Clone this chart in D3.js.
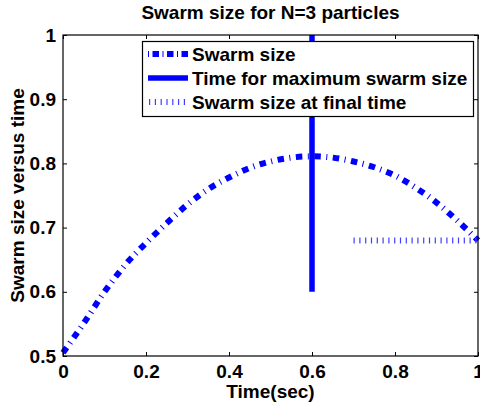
<!DOCTYPE html>
<html><head><meta charset="utf-8">
<script src="https://cdn.jsdelivr.net/npm/d3@7"></script>
<style>body{margin:0;background:#fff}text{font-family:"Liberation Sans",Arial,sans-serif;font-weight:bold}</style>
</head><body><svg id="c" width="480" height="405"></svg>
<script>
const time = [0,0.05,0.1,0.15,0.2,0.25,0.3,0.35,0.4,0.45,0.5,0.55,0.6,0.65,0.7,0.75,0.8,0.85,0.9,0.95,1.0];
const swarmSize = [0.505,0.551,0.600,0.642,0.676,0.707,0.736,0.760,0.778,0.793,0.803,0.809,0.811,0.809,0.803,0.794,0.781,0.762,0.739,0.711,0.680];
const maxTime = 0.6;
const maxLineY = [0.6, 1.0];
const finalX = [0.7, 1.0];
const finalSize = 0.68;
const xTicks = [0,0.2,0.4,0.6,0.8,1];
const yTicks = [0.5,0.6,0.7,0.8,0.9,1];
const legendLabels = ["Swarm size","Time for maximum swarm size","Swarm size at final time"];
const title = "Swarm size for N=3 particles";
const xLabel = "Time(sec)";
const yLabel = "Swarm size versus time";

const svg = d3.select("#c");
const L=63,R=478,T=35,B=356;
const x = d3.scaleLinear().domain([0,1]).range([L,R]);
const y = d3.scaleLinear().domain([0.5,1]).range([B,T]);
const fmt = d => d===0?"0":(d===1?"1":String(d));

const tl=4;
svg.append("g").attr("transform",`translate(0,${B})`).call(d3.axisBottom(x).tickValues(xTicks).tickSize(-tl).tickPadding(9).tickFormat(fmt))
  .call(g=>{g.select(".domain").remove();g.selectAll("text").attr("font-size",19).attr("fill","#000").attr("dy","0.71em");});
svg.append("g").attr("transform",`translate(0,${T})`).call(d3.axisTop(x).tickValues(xTicks).tickSize(-tl).tickFormat(""))
  .call(g=>g.select(".domain").remove());
svg.append("g").attr("transform",`translate(${L},0)`).call(d3.axisLeft(y).tickValues(yTicks).tickSize(-tl).tickPadding(7).tickFormat(fmt))
  .call(g=>{g.select(".domain").remove();g.selectAll("text").attr("font-size",19).attr("fill","#000");});
svg.append("g").attr("transform",`translate(${R},0)`).call(d3.axisRight(y).tickValues(yTicks).tickSize(-tl).tickFormat(""))
  .call(g=>g.select(".domain").remove());
svg.selectAll(".tick line").attr("stroke","#000");

const line = d3.line().x((d,i)=>x(time[i])).y(d=>y(d)).curve(d3.curveMonotoneX);
svg.append("path").attr("d",line(swarmSize)).attr("fill","none").attr("stroke","#0000ff")
  .attr("stroke-width",6).attr("stroke-dasharray","6.5,5.5,1,5.5");

svg.append("line").attr("x1",x(maxTime)).attr("x2",x(maxTime)).attr("y1",y(maxLineY[0])).attr("y2",y(maxLineY[1]))
  .attr("stroke","#0000ff").attr("stroke-width",5.5);

svg.append("line").attr("x1",x(finalX[0])).attr("x2",x(finalX[1])).attr("y1",y(finalSize)).attr("y2",y(finalSize))
  .attr("stroke","#4040ff").attr("stroke-width",6).attr("stroke-dasharray","1.2,4.6");

svg.append("rect").attr("x",L).attr("y",T).attr("width",R-L).attr("height",B-T).attr("fill","none").attr("stroke","#000").attr("stroke-width",1.2);

const lg = svg.append("g");
lg.append("rect").attr("x",142.5).attr("y",41.5).attr("width",331).attr("height",75).attr("fill","#fff").attr("stroke","#000").attr("stroke-width",1.2);
const rowsY=[54,78,102];
lg.append("line").attr("x1",148).attr("x2",188).attr("y1",rowsY[0]).attr("y2",rowsY[0]).attr("stroke","#0000ff").attr("stroke-width",6).attr("stroke-dasharray","1,3.5,6.5,3.5");
lg.append("line").attr("x1",148).attr("x2",188).attr("y1",rowsY[1]).attr("y2",rowsY[1]).attr("stroke","#0000ff").attr("stroke-width",5.5);
lg.append("line").attr("x1",149).attr("x2",188).attr("y1",rowsY[2]).attr("y2",rowsY[2]).attr("stroke","#4040ff").attr("stroke-width",6).attr("stroke-dasharray","1.2,4.6");
legendLabels.forEach((t,i)=>lg.append("text").attr("x",192).attr("y",rowsY[i]+7).attr("font-size",19).text(t));

svg.append("text").attr("x",(L+R)/2).attr("y",19).attr("text-anchor","middle").attr("font-size",19).text(title);
svg.append("text").attr("x",(L+R)/2).attr("y",398).attr("text-anchor","middle").attr("font-size",19).text(xLabel);
svg.append("text").attr("transform",`translate(24,${(T+B)/2}) rotate(-90)`).attr("text-anchor","middle").attr("font-size",19).text(yLabel);
</script></body></html>
